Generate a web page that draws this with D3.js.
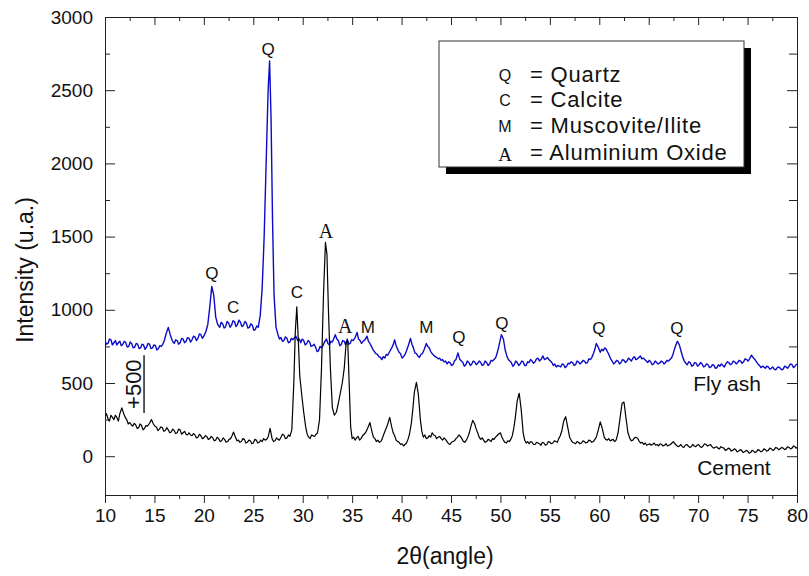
<!DOCTYPE html>
<html>
<head>
<meta charset="utf-8">
<script src="https://cdn.jsdelivr.net/npm/d3@7/dist/d3.min.js"></script>
<style>
  html, body { margin: 0; padding: 0; background: #fff; }
  svg { display: block; }
  text { font-family: "Liberation Sans", Arial, sans-serif; fill: #111; }
</style>
</head>
<body>
<svg id="chart" width="809" height="576"></svg>
<script>
// ---------- DATA ----------
const angleTicks = [10, 15, 20, 25, 30, 35, 40, 45, 50, 55, 60, 65, 70, 75, 80];
const angleMinorTicks = [12.5, 17.5, 22.5, 27.5, 32.5, 37.5, 42.5, 47.5, 52.5, 57.5, 62.5, 67.5, 72.5, 77.5];
const intensityTicks = [0, 500, 1000, 1500, 2000, 2500, 3000];
const intensityMinorTicks = [250, 750, 1250, 1750, 2250, 2750];

const flyAshOffset = 500;

// Fly ash pattern [2θ, intensity] (plotted shifted by +500)
const flyAsh = [
  [10.0,290],[10.15,265],[10.3,270],[10.45,300],[10.6,295],[10.75,260],[10.9,275],[11.05,290],[11.2,260],[11.35,275],[11.5,285],[11.65,255],[11.8,265],[11.95,285],[12.1,275],[12.25,245],[12.4,250],[12.55,280],[12.7,270],[12.85,240],
  [13.0,245],[13.15,270],[13.3,265],[13.45,235],[13.6,240],[13.75,265],[13.9,260],[14.05,230],[14.2,245],[14.35,270],[14.5,265],[14.65,235],[14.8,240],[14.95,260],[15.1,255],[15.25,225],[15.4,235],[15.55,255],[15.7,250],[15.85,265],
  [16.0,290],[16.2,340],[16.4,380],[16.6,330],[16.8,290],[17.0,270],[17.15,295],[17.3,290],[17.45,265],[17.6,275],[17.75,305],[17.9,300],[18.05,275],[18.2,285],[18.35,310],
  [18.5,305],[18.65,280],[18.8,295],[18.95,320],[19.1,315],[19.25,290],[19.4,305],[19.55,335],[19.7,330],[19.85,305],[20.0,320],[20.2,350],[20.4,400],[20.6,520],[20.8,660],
  [21.0,600],[21.2,450],[21.4,400],[21.6,380],[21.75,415],[21.9,405],[22.05,375],[22.2,385],[22.35,420],[22.5,410],[22.65,380],[22.8,395],[22.95,425],[23.1,420],[23.25,385],[23.4,400],
  [23.55,430],[23.7,415],[23.85,385],[24.0,395],[24.15,420],[24.3,410],[24.45,375],[24.6,380],[24.75,405],[24.9,395],[25.05,360],[25.2,365],[25.35,390],[25.5,380],[25.7,460],[25.9,650],[26.1,1000],
  [26.3,1500],[26.5,2000],[26.65,2200],[26.8,1800],[26.95,1100],[27.1,600],[27.3,380],[27.5,330],[27.65,300],[27.8,310],[27.95,285],[28.1,290],
  [28.25,315],[28.4,305],[28.55,275],[28.7,280],[28.85,305],[29.0,295],[29.3,320],[29.5,290],[29.65,300],[29.8,275],[29.95,300],[30.1,290],[30.25,260],[30.4,270],[30.55,290],[30.7,280],[30.85,250],[31.0,255],
  [31.15,265],[31.3,245],[31.45,215],[31.6,220],[31.75,250],[31.9,240],[32.05,255],[32.2,280],[32.4,300],[32.55,270],[32.7,260],[32.85,285],[33.0,280],[33.3,330],[33.45,300],[33.6,290],[33.75,255],[33.9,265],
  [34.05,290],[34.2,285],[34.35,260],[34.5,300],[34.65,265],[34.8,270],[34.95,295],[35.1,290],[35.3,310],[35.5,345],[35.65,300],[35.8,290],[35.95,270],[36.1,285],[36.3,295],[36.5,320],[36.65,285],[36.8,270],[36.95,250],[37.1,230],
  [37.25,215],[37.4,200],[37.55,195],[37.7,180],[37.85,175],[38.0,160],[38.15,180],[38.3,170],[38.45,195],[38.6,190],[38.8,215],[39.0,240],[39.15,260],[39.3,295],[39.45,255],[39.6,230],[39.75,210],[39.9,200],[40.05,170],[40.2,180],
  [40.35,195],[40.5,220],[40.7,260],[40.9,305],[41.05,265],[41.2,240],[41.35,205],[41.5,200],[41.65,185],[41.8,175],[41.95,195],[42.1,200],[42.3,230],[42.5,270],[42.65,250],[42.8,240],[42.95,215],[43.1,200],[43.25,190],[43.4,180],
  [43.55,175],[43.7,165],[43.85,170],[44.0,155],[44.15,160],[44.3,145],[44.45,150],[44.6,130],[44.75,145],[44.9,140],[45.05,120],[45.2,125],[45.35,150],[45.5,160],[45.7,205],[45.9,160],[46.05,150],[46.2,140],
  [46.35,115],[46.5,125],[46.65,150],[46.8,140],[46.95,120],[47.1,130],[47.25,150],[47.4,145],[47.55,125],[47.7,135],[47.85,150],[48.0,140],[48.15,120],[48.3,125],[48.45,150],[48.6,140],[48.75,120],[48.9,130],[49.05,155],[49.2,150],
  [49.35,160],[49.5,170],[49.65,200],[49.8,240],[50.1,330],[50.3,300],[50.5,220],[50.65,185],[50.8,160],[50.95,150],[51.1,140],[51.25,115],[51.4,125],[51.55,150],[51.7,140],[51.85,120],[52.0,130],
  [52.15,150],[52.3,145],[52.45,120],[52.6,120],[52.75,145],[52.9,140],[53.05,160],[53.2,150],[53.35,135],[53.5,145],[53.65,165],[53.8,170],[53.95,150],[54.1,160],[54.3,185],[54.45,160],[54.6,165],[54.75,175],[54.9,160],
  [55.05,150],[55.2,140],[55.35,120],[55.5,130],[55.65,110],[55.8,120],[55.95,115],[56.1,110],[56.25,130],[56.4,125],[56.55,105],[56.7,115],[56.85,135],[57.0,130],[57.15,145],[57.3,140],[57.45,120],[57.6,125],[57.75,150],[57.9,145],
  [58.05,130],[58.2,140],[58.35,155],[58.5,150],[58.65,135],[58.8,140],[58.95,165],[59.1,160],[59.25,175],[59.4,200],[59.55,230],[59.7,270],[59.9,245],[60.1,210],[60.25,230],[60.4,220],[60.55,240],[60.7,230],
  [60.85,210],[61.0,190],[61.15,165],[61.3,150],[61.45,130],[61.6,140],[61.75,155],[61.9,150],[62.05,130],[62.2,140],[62.35,160],[62.5,155],[62.65,140],[62.8,150],[62.95,170],[63.1,160],[63.25,150],[63.4,170],[63.55,180],[63.7,160],
  [63.85,165],[64.0,175],[64.15,185],[64.3,165],[64.45,170],[64.6,160],[64.75,150],[64.9,140],[65.05,155],[65.2,145],[65.35,125],[65.5,130],[65.65,150],[65.8,140],[65.95,130],[66.1,135],[66.25,150],[66.4,145],[66.55,130],[66.7,140],
  [66.85,155],[67.0,150],[67.15,160],[67.3,170],[67.45,195],[67.6,230],[67.75,260],[67.9,285],[68.1,260],[68.3,210],[68.45,175],[68.6,150],[68.75,135],[68.9,125],[69.05,145],[69.2,140],[69.35,115],[69.5,120],
  [69.65,140],[69.8,135],[69.95,115],[70.1,125],[70.25,140],[70.4,130],[70.55,110],[70.7,115],[70.85,130],[71.0,125],[71.15,105],[71.3,110],[71.45,125],[71.6,120],[71.75,100],[71.9,105],[72.05,125],[72.2,115],[72.35,130],[72.5,120],
  [72.65,110],[72.8,130],[72.95,145],[73.1,140],[73.25,125],[73.4,130],[73.55,150],[73.7,145],[73.85,130],[74.0,140],[74.15,155],[74.3,150],[74.45,135],[74.6,145],[74.75,165],[74.9,160],[75.05,150],[75.2,165],[75.4,190],
  [75.6,170],[75.75,160],[75.9,145],[76.05,130],[76.2,120],[76.35,105],[76.5,115],[76.65,110],[76.8,100],[76.95,115],[77.1,110],[77.25,95],[77.4,100],[77.55,110],[77.7,95],[77.85,90],[78.0,105],[78.15,110],[78.3,100],
  [78.45,90],[78.6,95],[78.75,115],[78.9,110],[79.05,100],[79.2,115],[79.35,130],[79.5,125],[79.65,105],[79.8,115],[79.9,125],[80.0,130]
];

// Cement pattern [2θ, intensity]
const cement = [
  [10.0,270],[10.15,290],[10.3,255],[10.45,240],[10.6,280],[10.75,265],[10.9,250],[11.05,280],[11.2,265],[11.35,240],[11.5,290],[11.7,330],[11.9,290],[12.05,265],[12.2,250],[12.35,220],[12.5,230],[12.65,215],
  [12.8,205],[12.95,225],[13.1,215],[13.25,190],[13.4,195],[13.55,220],[13.7,210],[13.85,180],[14.0,190],[14.15,210],[14.3,205],[14.5,225],[14.7,250],[14.9,220],[15.05,205],[15.2,200],
  [15.35,175],[15.5,185],[15.65,200],[15.8,195],[15.95,170],[16.1,175],[16.25,195],[16.4,180],[16.55,160],[16.7,165],[16.85,185],[17.0,175],[17.15,155],[17.3,160],[17.45,185],[17.6,180],[17.75,150],[17.9,160],[18.05,170],[18.2,150],
  [18.35,145],[18.5,160],[18.65,145],[18.8,140],[18.95,155],[19.1,145],[19.25,125],[19.4,130],[19.55,150],[19.7,140],[19.85,120],[20.0,125],[20.15,140],[20.3,135],[20.45,115],[20.6,120],[20.75,135],[20.9,125],[21.05,105],[21.2,110],
  [21.35,130],[21.5,120],[21.65,100],[21.8,105],[21.95,125],[22.1,115],[22.25,95],[22.4,100],[22.55,115],[22.7,120],[22.85,140],[23.0,165],[23.2,130],[23.35,105],[23.5,110],[23.65,95],[23.8,100],[23.95,120],[24.1,115],
  [24.25,90],[24.4,95],[24.55,110],[24.7,105],[24.85,85],[25.0,90],[25.15,115],[25.3,110],[25.45,90],[25.6,95],[25.75,110],[25.9,100],[26.05,120],[26.2,110],[26.35,115],[26.5,130],[26.7,190],[26.9,120],
  [27.05,100],[27.2,105],[27.35,125],[27.5,115],[27.65,110],[27.8,130],[27.95,150],[28.1,145],[28.25,120],[28.4,125],[28.55,145],[28.7,135],[28.9,180],[29.1,500],[29.25,850],[29.4,1020],
  [29.55,800],[29.7,550],[29.9,420],[30.1,300],[30.3,200],[30.45,150],[30.6,130],[30.75,120],[30.9,145],[31.05,140],[31.2,135],[31.35,150],[31.5,160],[31.7,250],
  [31.9,600],[32.1,1100],[32.3,1460],[32.45,1380],[32.6,1000],[32.8,600],[33.0,330],[33.2,280],[33.4,300],[33.6,360],
  [33.8,430],[34.0,500],[34.2,600],[34.4,780],[34.55,790],[34.7,500],[34.85,200],[35.0,120],[35.15,130],[35.3,110],[35.45,125],[35.6,135],
  [35.75,110],[35.9,120],[36.05,140],[36.2,150],[36.35,160],[36.5,180],[36.65,205],[36.8,230],[37.0,170],[37.15,130],[37.3,120],[37.45,100],[37.6,110],[37.75,95],[37.9,100],[38.05,120],[38.2,150],[38.35,175],[38.5,200],
  [38.65,230],[38.8,265],[39.0,200],[39.15,160],[39.3,140],[39.45,110],[39.6,100],[39.75,95],[39.9,80],[40.05,85],[40.2,70],[40.35,80],[40.5,90],[40.65,115],[40.8,150],[41.0,230],[41.15,330],[41.3,440],
  [41.5,505],[41.7,420],[41.9,250],[42.05,170],[42.2,130],[42.35,145],[42.5,120],[42.65,125],[42.8,140],[42.95,130],[43.1,160],[43.25,145],[43.4,140],[43.55,120],[43.7,130],[43.85,135],[44.0,120],
  [44.15,110],[44.3,125],[44.45,115],[44.6,100],[44.75,85],[44.9,80],[45.05,95],[45.2,100],[45.35,105],[45.5,120],[45.65,130],[45.8,145],[45.95,135],[46.1,120],[46.25,100],[46.4,95],[46.55,110],[46.7,130],[46.85,160],[47.0,200],
  [47.2,245],[47.4,220],[47.55,185],[47.7,160],[47.85,130],[48.0,115],[48.15,125],[48.3,110],[48.45,95],[48.6,100],[48.75,115],[48.9,110],[49.05,100],[49.2,120],[49.35,115],[49.5,130],[49.65,140],[49.8,150],
  [50.0,160],[50.15,130],[50.3,110],[50.45,95],[50.6,90],[50.75,105],[50.9,100],[51.05,115],[51.2,140],[51.35,190],[51.5,260],[51.7,380],[51.9,430],[52.1,320],[52.3,160],
  [52.45,110],[52.6,90],[52.75,100],[52.9,85],[53.05,100],[53.2,95],[53.35,80],[53.5,80],[53.65,95],[53.8,90],[53.95,85],[54.1,75],[54.25,95],[54.4,90],[54.55,75],[54.7,80],[54.85,100],[55.0,95],[55.15,85],[55.3,90],
  [55.45,105],[55.6,100],[55.75,95],[55.9,120],[56.05,140],[56.2,170],[56.4,240],[56.6,270],[56.8,200],[57.0,130],[57.15,110],[57.3,95],[57.45,90],[57.6,85],[57.75,100],[57.9,95],
  [58.05,85],[58.2,90],[58.35,105],[58.5,100],[58.65,90],[58.8,95],[58.95,110],[59.1,105],[59.25,95],[59.4,100],[59.55,115],[59.7,130],[59.9,180],[60.1,235],[60.3,190],[60.5,130],
  [60.65,115],[60.8,110],[60.95,120],[61.1,105],[61.25,110],[61.4,115],[61.55,100],[61.7,110],[61.9,160],[62.1,260],[62.3,360],[62.5,370],[62.7,260],[62.9,160],
  [63.1,120],[63.25,105],[63.4,110],[63.55,125],[63.7,130],[63.9,120],[64.05,100],[64.2,90],[64.35,95],[64.5,80],[64.65,90],[64.8,75],[64.95,80],[65.1,85],[65.25,75],[65.4,80],[65.55,90],[65.7,75],
  [65.85,80],[66.0,70],[66.15,85],[66.3,80],[66.45,70],[66.6,75],[66.75,85],[66.9,70],[67.05,75],[67.2,80],[67.35,90],[67.5,100],[67.65,85],[67.8,75],[67.95,65],[68.1,70],[68.25,80],[68.4,65],[68.55,60],[68.7,75],
  [68.85,80],[69.0,70],[69.15,60],[69.3,65],[69.45,80],[69.6,70],[69.75,65],[69.9,75],[70.05,80],[70.2,65],[70.35,60],[70.5,70],[70.65,85],[70.8,80],[70.95,70],[71.1,75],[71.25,80],[71.4,65],[71.55,55],[71.7,60],
  [71.85,65],[72.0,55],[72.15,50],[72.3,65],[72.45,60],[72.6,55],[72.75,40],[72.9,45],[73.05,55],[73.2,50],[73.35,35],[73.5,40],[73.65,50],[73.8,45],[73.95,30],[74.1,35],[74.25,45],[74.4,40],[74.55,25],[74.7,30],
  [74.85,40],[75.0,35],[75.15,20],[75.3,25],[75.45,40],[75.6,35],[75.75,25],[75.9,30],[76.05,45],[76.2,40],[76.35,30],[76.5,35],[76.65,50],[76.8,45],[76.95,35],[77.1,40],[77.25,55],[77.4,50],[77.55,40],[77.7,45],
  [77.85,60],[78.0,55],[78.15,45],[78.3,50],[78.45,60],[78.6,55],[78.75,45],[78.9,50],[79.05,65],[79.2,60],[79.35,50],[79.5,55],[79.65,70],[79.8,65],[79.9,55],[80.0,60]
];

// Phase labels over peaks: [letter, 2θ, plotted intensity, style]
const peakLabels = [
  ["Q", 26.5, 2782, "sans"], ["Q", 20.8, 1251, "sans"], ["C", 22.95, 1018, "sans"],
  ["C", 29.4, 1121, "sans"], ["A", 32.35, 1538, "serif"], ["A", 34.3, 889, "serif"],
  ["M", 36.6, 882, "sans"], ["M", 42.5, 882, "sans"], ["Q", 45.8, 813, "sans"],
  ["Q", 50.15, 909, "sans"], ["Q", 59.95, 875, "sans"], ["Q", 67.85, 875, "sans"]
];

const legendSymbols = ["Q", "C", "M", "A"];
const legendNames = ["= Quartz", "= Calcite", "= Muscovite/Ilite", "= Aluminium Oxide"];

const seriesNames = ["Fly ash", "Cement"];
const seriesColors = ["#0c0cc8", "#000000"];
const offsetLabel = "+500";

// ---------- CHART ----------
const svg = d3.select("#chart");
const mLeft = 105, mRight = 797, mTop = 17, mBottom = 495;

const x = d3.scaleLinear().domain([10, 80]).range([mLeft, mRight]);
const y = d3.scaleLinear().domain([-265, 3000]).range([mBottom, mTop]);

svg.append("defs").append("clipPath").attr("id", "clip")
  .append("rect").attr("x", mLeft).attr("y", mTop).attr("width", mRight - mLeft).attr("height", mBottom - mTop);

const line = d3.line().x(d => x(d[0])).y(d => y(d[1]));

// series
svg.append("path")
  .datum(flyAsh.map(d => [d[0], d[1] + flyAshOffset]))
  .attr("clip-path", "url(#clip)")
  .attr("fill", "none").attr("stroke", seriesColors[0]).attr("stroke-width", 1.4)
  .attr("stroke-linejoin", "round")
  .attr("d", line);

svg.append("path")
  .datum(cement)
  .attr("clip-path", "url(#clip)")
  .attr("fill", "none").attr("stroke", seriesColors[1]).attr("stroke-width", 1.2)
  .attr("stroke-linejoin", "round")
  .attr("d", line);

// axes
function styleAxis(g) {
  g.selectAll(".domain").attr("stroke", "#222").attr("stroke-width", 1);
  g.selectAll(".tick line").attr("stroke", "#222").attr("stroke-width", 1);
}
const tickFont = "19px";

// bottom
svg.append("g").attr("transform", `translate(0,${mBottom})`)
  .call(d3.axisBottom(x).tickValues(angleTicks).tickSize(8).tickPadding(6).tickFormat(d3.format("d")))
  .call(styleAxis)
  .call(g => g.selectAll("text").style("font-size", tickFont).attr("fill", "#111"));
svg.append("g").attr("transform", `translate(0,${mBottom})`)
  .call(d3.axisBottom(x).tickValues(angleMinorTicks).tickSize(4).tickFormat(""))
  .call(styleAxis);
// top
svg.append("g").attr("transform", `translate(0,${mTop})`)
  .call(d3.axisTop(x).tickValues(angleTicks).tickSize(-8).tickFormat(""))
  .call(styleAxis);
svg.append("g").attr("transform", `translate(0,${mTop})`)
  .call(d3.axisTop(x).tickValues(angleMinorTicks).tickSize(-4).tickFormat(""))
  .call(styleAxis);
// left
svg.append("g").attr("transform", `translate(${mLeft},0)`)
  .call(d3.axisLeft(y).tickValues(intensityTicks).tickSize(-10).tickPadding(12).tickFormat(d3.format("d")))
  .call(styleAxis)
  .call(g => g.selectAll("text").style("font-size", tickFont).attr("fill", "#111"));
svg.append("g").attr("transform", `translate(${mLeft},0)`)
  .call(d3.axisLeft(y).tickValues(intensityMinorTicks).tickSize(-5).tickFormat(""))
  .call(styleAxis);
// right
svg.append("g").attr("transform", `translate(${mRight},0)`)
  .call(d3.axisRight(y).tickValues(intensityTicks).tickSize(-10).tickFormat(""))
  .call(styleAxis);
svg.append("g").attr("transform", `translate(${mRight},0)`)
  .call(d3.axisRight(y).tickValues(intensityMinorTicks).tickSize(-8).tickFormat(""))
  .call(styleAxis);

// axis titles
svg.append("text")
  .attr("x", 445).attr("y", 564)
  .attr("text-anchor", "middle")
  .style("font-size", "23px")
  .text("2θ(angle)");

svg.append("text")
  .attr("transform", "translate(33,270) rotate(-90)")
  .attr("text-anchor", "middle")
  .style("font-size", "23px")
  .text("Intensity (u.a.)");

// peak labels
svg.append("g").selectAll("text").data(peakLabels).join("text")
  .attr("x", d => x(d[1])).attr("y", d => y(d[2]))
  .attr("text-anchor", "middle").attr("dy", "0.36em")
  .style("font-family", d => d[3] === "serif" ? "'Liberation Serif', 'Times New Roman', serif" : null)
  .style("font-size", d => d[3] === "serif" ? "20px" : "17px")
  .text(d => d[0]);

// series labels
svg.append("text").attr("x", x(69.5)).attr("y", y(444))
  .style("font-size", "21px").text(seriesNames[0]);
svg.append("text").attr("x", x(69.9)).attr("y", y(-130))
  .style("font-size", "21px").text(seriesNames[1]);

// +500 offset marker
svg.append("line")
  .attr("x1", x(13.95)).attr("x2", x(13.95))
  .attr("y1", y(295)).attr("y2", y(690))
  .attr("stroke", "#111").attr("stroke-width", 1.4);
svg.append("text")
  .attr("transform", `translate(${x(13.64)},${y(492)}) rotate(-90)`)
  .attr("text-anchor", "middle")
  .style("font-size", "22px")
  .text(offsetLabel);

// legend
const lg = svg.append("g");
const lx = 439, ly = 41, lw = 305, lh = 126;
lg.append("rect").attr("x", lx + 7).attr("y", ly + 7).attr("width", lw).attr("height", lh).attr("fill", "#000");
lg.append("rect").attr("x", lx).attr("y", ly).attr("width", lw).attr("height", lh)
  .attr("fill", "#fff").attr("stroke", "#333").attr("stroke-width", 1);
const rowBase = [82, 107, 133, 160];
lg.selectAll("text.sym").data(legendSymbols).join("text")
  .attr("class", "sym")
  .attr("x", lx + 66).attr("y", (d, i) => rowBase[i] - (d === "A" ? -1 : 1))
  .attr("text-anchor", "middle")
  .style("font-family", d => d === "A" ? "'Liberation Serif', 'Times New Roman', serif" : null)
  .style("font-size", d => d === "A" ? "19px" : "16px")
  .text(d => d);
lg.selectAll("text.name").data(legendNames).join("text")
  .attr("class", "name")
  .attr("x", lx + 91).attr("y", (d, i) => rowBase[i])
  .style("font-size", "22px").style("letter-spacing", "0.8px")
  .text(d => d);
</script>
</body>
</html>
